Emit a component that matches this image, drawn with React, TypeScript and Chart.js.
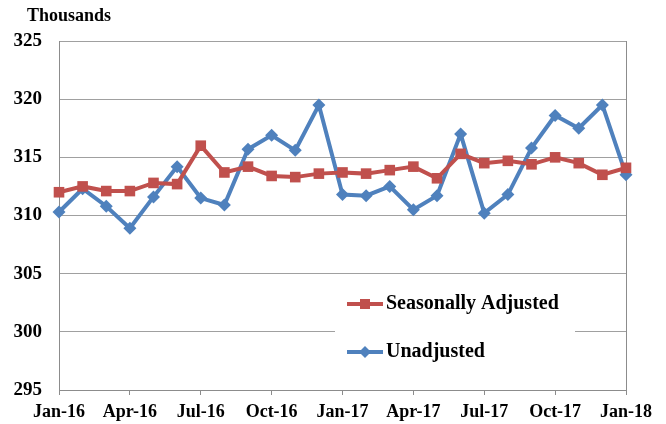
import React, { useEffect, useRef } from "react";
import { Chart, registerables } from "chart.js";

Chart.register(...registerables);

const months = [
  "Jan-16", "Feb-16", "Mar-16", "Apr-16", "May-16", "Jun-16", "Jul-16", "Aug-16", "Sep-16", "Oct-16", "Nov-16", "Dec-16",
  "Jan-17", "Feb-17", "Mar-17", "Apr-17", "May-17", "Jun-17", "Jul-17", "Aug-17", "Sep-17", "Oct-17", "Nov-17", "Dec-17",
  "Jan-18",
];

const seasonallyAdjusted = [
  312.0, 312.5, 312.1, 312.1, 312.8, 312.7, 316.0, 313.7, 314.2, 313.4, 313.3, 313.6,
  313.7, 313.6, 313.9, 314.2, 313.2, 315.3, 314.5, 314.7, 314.4, 315.0, 314.5, 313.5,
  314.1,
];

const unadjusted = [
  310.3, 312.3, 310.8, 308.9, 311.6, 314.2, 311.5, 310.9, 315.7, 316.9, 315.6, 319.5,
  311.8, 311.7, 312.5, 310.5, 311.7, 317.0, 310.2, 311.8, 315.8, 318.6, 317.5, 319.5,
  313.5,
];

const yTicks = [295, 300, 305, 310, 315, 320, 325];

const seriesNames = ["Seasonally Adjusted", "Unadjusted"];
const unitLabel = "Thousands";

const RED = "#C0504D";
const BLUE = "#4F81BD";
const FONT = "'Liberation Serif', 'Times New Roman', serif";

export default function App() {
  const ref = useRef<HTMLCanvasElement | null>(null);

  useEffect(() => {
    document.body.style.margin = "0";
    const canvas = ref.current;
    if (!canvas) return;

    const framePlugin = {
      id: "frameAndLegend",
      beforeDatasetsDraw(chart: any) {
        const { ctx, chartArea } = chart;
        const { left, right, top, bottom } = chartArea;
        ctx.save();
        ctx.strokeStyle = "#8c8c8c";
        ctx.lineWidth = 1;
        ctx.beginPath();
        ctx.moveTo(Math.round(right) + 0.5, top);
        ctx.lineTo(Math.round(right) + 0.5, bottom);
        ctx.stroke();
        const lx = left + (335 - 59);
        const ly = top + (280 - 41);
        ctx.fillStyle = "#ffffff";
        ctx.fillRect(lx, ly, 240, 100);
        ctx.restore();
      },
      afterDatasetsDraw(chart: any) {
        const { ctx, chartArea } = chart;
        const { left, top } = chartArea;
        ctx.save();
        const items = [
          { name: seriesNames[0], color: RED, shape: "rect", y: top + (304 - 41) },
          { name: seriesNames[1], color: BLUE, shape: "diamond", y: top + (352 - 41) },
        ];
        const x0 = left + (347 - 59);
        const x1 = left + (383 - 59);
        for (const it of items) {
          ctx.strokeStyle = it.color;
          ctx.lineWidth = 4;
          ctx.beginPath();
          ctx.moveTo(x0, it.y);
          ctx.lineTo(x1, it.y);
          ctx.stroke();
          ctx.fillStyle = it.color;
          const cx = (x0 + x1) / 2;
          if (it.shape === "rect") {
            ctx.fillRect(cx - 5, it.y - 5, 10, 10);
          } else {
            ctx.beginPath();
            ctx.moveTo(cx, it.y - 6);
            ctx.lineTo(cx + 6, it.y);
            ctx.lineTo(cx, it.y + 6);
            ctx.lineTo(cx - 6, it.y);
            ctx.closePath();
            ctx.fill();
          }
          ctx.fillStyle = "#000";
          ctx.font = `bold 20px ${FONT}`;
          ctx.textBaseline = "middle";
          ctx.textAlign = "left";
          ctx.fillText(it.name, x1 + 3, it.y);
        }
        ctx.font = `bold 18px ${FONT}`;
        ctx.textBaseline = "middle";
        ctx.textAlign = "left";
        ctx.fillText(unitLabel, 27, 16);
        ctx.restore();
      },
    };

    const chart = new Chart(canvas, {
      type: "line",
      data: {
        labels: months,
        datasets: [
          {
            label: seriesNames[0],
            data: seasonallyAdjusted,
            borderColor: RED,
            backgroundColor: RED,
            borderWidth: 4,
            pointStyle: "rect",
            pointRadius: 7.5,
            pointBorderWidth: 0,
            pointBackgroundColor: RED,
            tension: 0,
            clip: false as any,
          },
          {
            label: seriesNames[1],
            data: unadjusted,
            borderColor: BLUE,
            backgroundColor: BLUE,
            borderWidth: 4,
            pointStyle: "rectRot",
            pointRadius: 6.5,
            pointBorderWidth: 0,
            pointBackgroundColor: BLUE,
            tension: 0,
            clip: false as any,
          },
        ],
      },
      options: {
        animation: false,
        responsive: false,
        maintainAspectRatio: false,
        layout: { padding: { top: 41, right: 40, left: 0, bottom: 0 } },
        plugins: {
          legend: { display: false },
          tooltip: { enabled: false },
          title: { display: false },
        },
        scales: {
          x: {
            type: "category",
            offset: false,
            grid: {
              drawOnChartArea: false,
              drawTicks: true,
              tickLength: 5,
              color: "#8c8c8c",
            },
            border: { color: "#8c8c8c" },
            ticks: {
              autoSkip: false,
              maxRotation: 0,
              padding: 7,
              color: "#000",
              font: { family: FONT, size: 18, weight: "bold" },
              callback: (_v: any, i: number) => (i % 3 === 0 ? months[i] : null),
            },
            afterFit: (axis: any) => {
              axis.height = 34;
            },
          },
          y: {
            min: yTicks[0],
            max: yTicks[yTicks.length - 1],
            grid: { color: "#a0a0a0", drawTicks: false, lineWidth: 1 },
            border: { color: "#8c8c8c" },
            afterBuildTicks: (axis: any) => {
              axis.ticks = yTicks.map((v) => ({ value: v }));
            },
            ticks: {
              padding: 17,
              color: "#000",
              font: { family: FONT, size: 19, weight: "bold" },
            },
            afterFit: (axis: any) => {
              axis.width = 59;
            },
          },
        },
      },
      plugins: [framePlugin],
    });

    return () => chart.destroy();
  }, []);

  return (
    <div style={{ width: 666, height: 424 }}>
      <canvas ref={ref} width={666} height={424} style={{ display: "block" }} />
    </div>
  );
}
